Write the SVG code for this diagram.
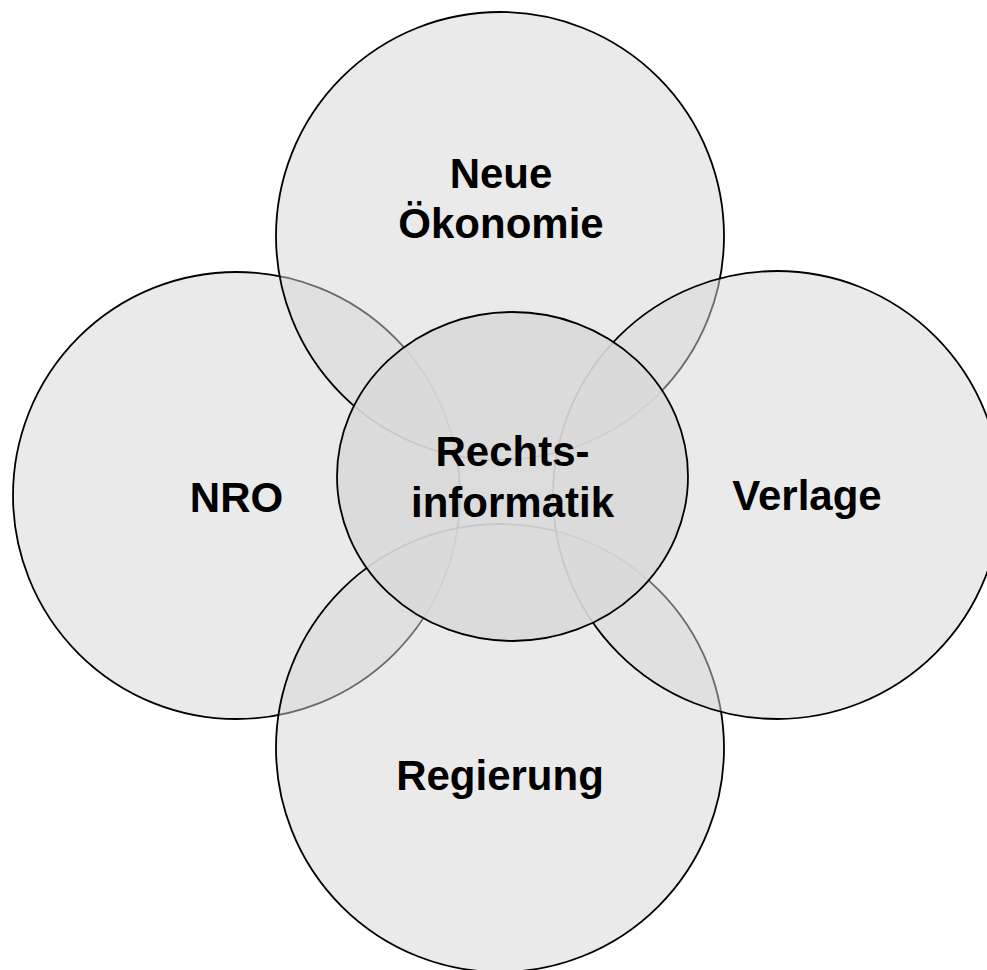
<svg xmlns="http://www.w3.org/2000/svg" width="987" height="970" viewBox="0 0 987 970">
<style>
.outer{fill:#d6d6d6;fill-opacity:0.5;stroke:#000;stroke-width:1.8}
.core{fill:#d9d9d9;fill-opacity:0.92;stroke:#000;stroke-width:1.8}
.lbl{font-family:"Liberation Sans",Arial,sans-serif;font-weight:bold;font-size:42px;fill:#000;text-anchor:middle}
</style>
<rect width="987" height="970" fill="#fff"/>
<g id="connectors"></g>
<g id="nro">
<circle class="outer" cx="236.5" cy="495.5" r="223.5"/>
<text class="lbl" x="236.5" y="511.5">NRO</text>
</g>
<g id="neue-oekonomie">
<circle class="outer" cx="500" cy="236" r="224"/>
<text class="lbl" x="501" y="188">Neue</text>
<text class="lbl" x="501" y="238">Ökonomie</text>
</g>
<g id="regierung">
<circle class="outer" cx="500" cy="748" r="224"/>
<text class="lbl" x="500" y="790">Regierung</text>
</g>
<g id="verlage">
<circle class="outer" cx="777" cy="495" r="224"/>
<text class="lbl" x="807" y="510">Verlage</text>
</g>
<g id="rechtsinformatik">
<ellipse class="core" cx="512.5" cy="476.5" rx="175.5" ry="164.5"/>
<text class="lbl" x="512.5" y="466">Rechts-</text>
<text class="lbl" x="512.5" y="517">informatik</text>
</g>
</svg>
